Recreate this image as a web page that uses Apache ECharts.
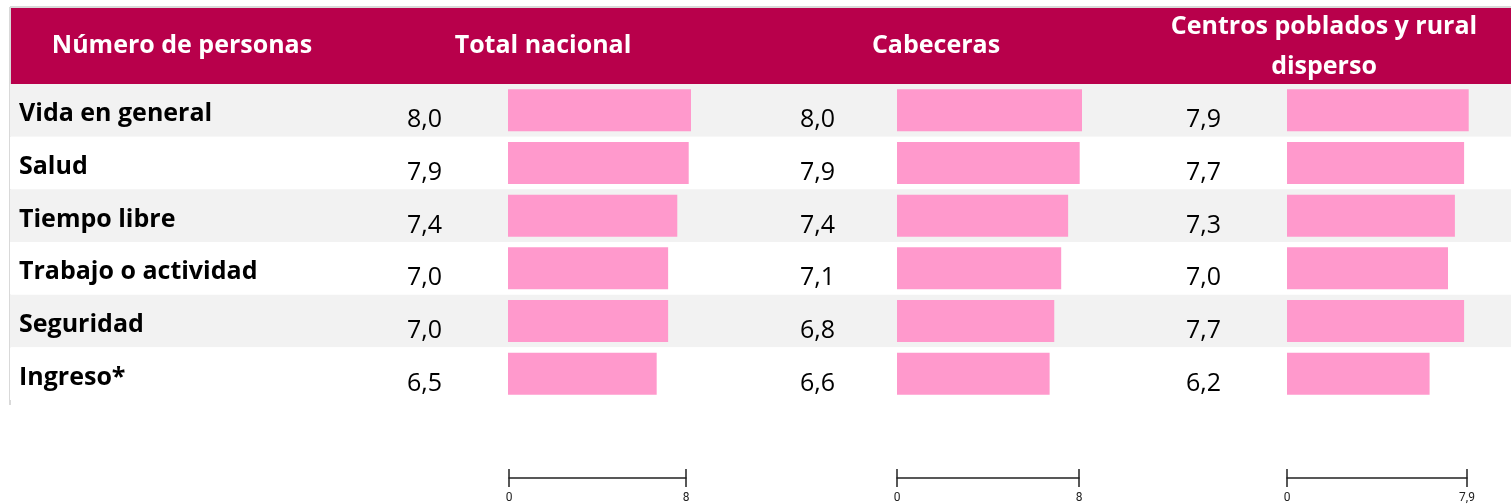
<!DOCTYPE html>
<html lang="es">
<head>
    <meta charset="UTF-8">
    <title>Satisfacción por dominio</title>
    <script src="https://cdn.jsdelivr.net/npm/echarts@6.0.0/dist/echarts.min.js"></script>
    <style>
        * { margin: 0; padding: 0; box-sizing: border-box; }
        html, body { width: 100%; height: 100%; overflow: hidden; background: #fff; }
        #chart { width: 1511px; height: 504px; }
    </style>
</head>
<body>
    <div id="chart"></div>
    <script>
        // datos
        const categorias = ['Vida en general', 'Salud', 'Tiempo libre', 'Trabajo o actividad', 'Seguridad', 'Ingreso*'];
        const totalNacional = [8.0, 7.9, 7.4, 7.0, 7.0, 6.5];
        const cabeceras = [8.0, 7.9, 7.4, 7.1, 6.8, 6.6];
        const centrosRural = [7.9, 7.7, 7.3, 7.0, 7.7, 6.2];
        const encabezados = ['Número de personas', 'Total nacional', 'Cabeceras', 'Centros poblados y rural\ndisperso'];
        const escalaMax = [8, 8, 7.9];

        const ROSA = '#FF99CC';
        const VINO = '#B8004B';
        const fmt = v => String(v.toFixed(1)).replace('.', ',');
        const fmtEje = v => String(v).replace('.', ',');

        const chart = echarts.init(document.getElementById('chart'), null, { renderer: 'canvas' });

        const gridTop = 84, gridH = 316;
        const cols = [
            { left: 508, width: 183, dist: 66, data: totalNacional, axLeft: 509, axW: 177 },
            { left: 897, width: 185, dist: 62, data: cabeceras, axLeft: 897, axW: 182 },
            { left: 1287, width: 184, dist: 66, data: centrosRural, axLeft: 1287, axW: 180 }
        ];

        // grid de fondo: bandas alternas y nombres de fila
        const grid = [{ left: 10, right: 0, top: gridTop, height: gridH }];
        const xAxis = [{ gridIndex: 0, type: 'value', min: 0, max: 1, show: false }];
        const yAxis = [{
            gridIndex: 0, type: 'category', data: categorias, inverse: true,
            axisLine: { show: false }, axisTick: { show: false }, axisLabel: { show: false },
            splitArea: { show: true, areaStyle: { color: ['#F2F2F2', '#FFFFFF'] } }
        }];
        const series = [{
            type: 'bar', xAxisIndex: 0, yAxisIndex: 0, silent: true,
            data: categorias.map(() => 0), barWidth: 1, itemStyle: { color: 'transparent' },
            label: {
                show: true, position: 'right', distance: 9, offset: [0, 4],
                fontFamily: 'Open Sans', fontWeight: 'bold', fontSize: 25, color: '#000',
                formatter: p => p.name
            }
        }];

        cols.forEach((c, i) => {
            // barras
            grid.push({ left: c.left, width: c.width, top: gridTop, height: gridH });
            xAxis.push({ gridIndex: i + 1, type: 'value', min: 0, max: 8, show: false });
            yAxis.push({ gridIndex: i + 1, type: 'category', data: categorias, inverse: true, show: false });
            series.push({
                type: 'bar', xAxisIndex: i + 1, yAxisIndex: i + 1, data: c.data,
                barWidth: 42, itemStyle: { color: ROSA }, silent: true,
                label: {
                    show: true, position: 'left', distance: c.dist, offset: [0, 10],
                    fontFamily: 'Open Sans', fontSize: 25, color: '#000',
                    formatter: p => fmt(p.value)
                }
            });
        });

        cols.forEach((c, i) => {
            // escala inferior
            const gi = grid.length;
            grid.push({ left: c.axLeft, width: c.axW, top: 469, height: 9 });
            xAxis.push({
                gridIndex: gi, type: 'value', min: 0, max: escalaMax[i], interval: escalaMax[i],
                axisLine: { show: true, lineStyle: { color: '#222', width: 1.5 } },
                axisTick: { show: true, length: 9, lineStyle: { color: '#222', width: 1.5 } },
                splitLine: { show: true, lineStyle: { color: '#222', width: 1.5 } },
                axisLabel: { margin: 14, fontFamily: 'Roboto', fontSize: 12, color: '#222', formatter: fmtEje }
            });
            yAxis.push({ gridIndex: gi, type: 'value', show: false });
        });

        const txt = (x, y, t) => ({
            type: 'text', x, y, silent: true,
            style: {
                text: t, fill: '#fff', font: 'bold 25px "Open Sans"',
                textAlign: 'center', textVerticalAlign: 'middle', lineHeight: 40
            }
        });

        chart.setOption({
            animation: false,
            grid, xAxis, yAxis, series,
            graphic: [
                { type: 'rect', shape: { x: 11, y: 8, width: 1500, height: 76 }, style: { fill: VINO }, silent: true },
                { type: 'line', shape: { x1: 10, y1: 7, x2: 1511, y2: 7 }, style: { stroke: '#D9D9D9', lineWidth: 2 }, silent: true },
                { type: 'line', shape: { x1: 10, y1: 7, x2: 10, y2: 405 }, style: { stroke: '#D9D9D9', lineWidth: 2 }, silent: true },
                txt(182, 46, encabezados[0]),
                txt(543, 46, encabezados[1]),
                txt(936, 46, encabezados[2]),
                txt(1324, 47, encabezados[3])
            ]
        });
    </script>
</body>
</html>
